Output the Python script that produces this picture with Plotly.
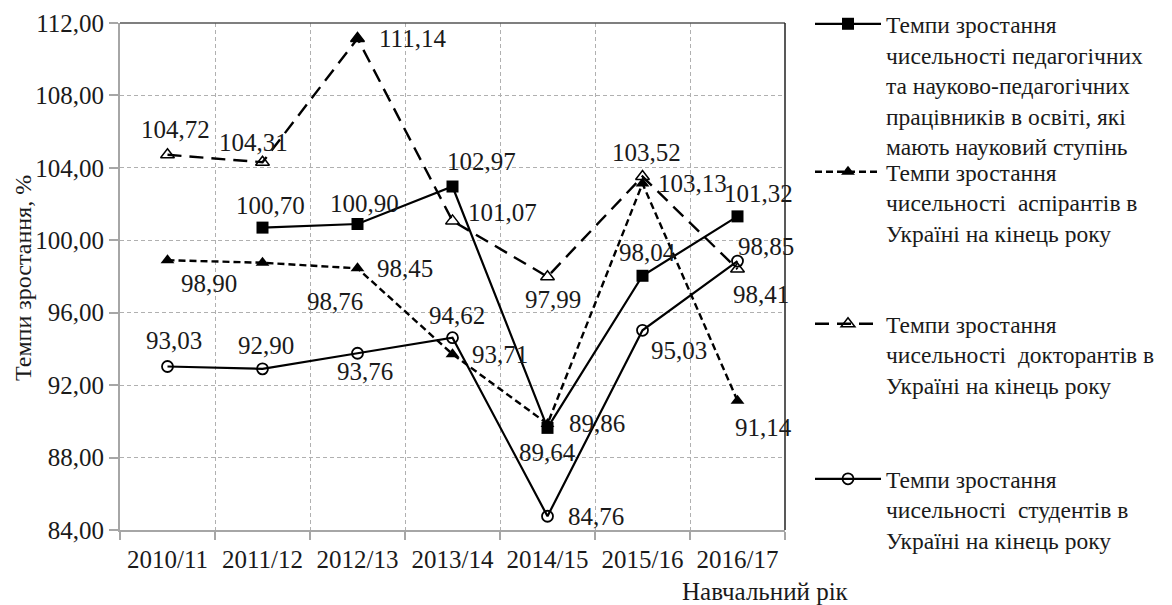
import plotly.graph_objects as go

years = ["2010/11", "2011/12", "2012/13", "2013/14", "2014/15", "2015/16", "2016/17"]

pedagog = [None, 100.70, 100.90, 102.97, 89.64, 98.04, 101.32]
aspirant = [98.90, 98.76, 98.45, 93.71, 89.86, 103.13, 91.14]
doctorant = [104.72, 104.31, 111.14, 101.07, 97.99, 103.52, 98.41]
students = [93.03, 92.90, 93.76, 94.62, 84.76, 95.03, 98.85]

names = [
    "Темпи зростання<br>чисельності педагогічних<br>та науково-педагогічних<br>працівників в освіті, які<br>мають науковий ступінь",
    "Темпи зростання<br>чисельності  аспірантів в<br>Україні на кінець року",
    "Темпи зростання<br>чисельності  докторантів в<br>Україні на кінець року",
    "Темпи зростання<br>чисельності  студентів в<br>Україні на кінець року",
]

y_ticks = [84, 88, 92, 96, 100, 104, 108, 112]

# label offsets in pixels (dx right, dy down) – styling only
off_ped = [None, (8, -22), (7, -20), (29, -25), (0, 25), (5, -23), (21, -23)]
off_asp = [(41, 23), (72, 39), (47, 0), (47, 0), (49, 0), (50, 0), (26, 27)]
off_doc = [(8, -25), (-9, -20), (55, 0), (50, -8), (5, 23), (4, -24), (23, 25)]
off_stu = [(6, -26), (3, -23), (7, 18), (4, -22), (48, 0), (36, 20), (28, -15)]

doc_symbols = ["triangle-up-open", "triangle-up-open", "triangle-up", "triangle-up-open",
               "triangle-up-open", "triangle-up-open", "triangle-up-open"]

FONT = "Liberation Serif"
TXT = "#1a1a1a"
FS = 25
OFF = 8  # page body margin
# plot area in page pixels
PL, PR, PT, PB = 120, 785, 23, 530
W, H = 1172 - OFF, 605 - OFF
L, T = PL - OFF, PT - OFF
R, B = W - (PR - OFF), H - (PB - OFF)
PW, PH = PR - PL, PB - PT


def px2x(px):
    return (px - PL) / PW


def py2y(py):
    return (PB - py) / PH


fig = go.Figure()

fig.add_trace(go.Scatter(
    x=years, y=pedagog, name=names[0], mode="lines+markers",
    line=dict(color="black", width=2.2),
    marker=dict(symbol="square", size=12, color="black"),
    legend="legend", connectgaps=False,
))
fig.add_trace(go.Scatter(
    x=years, y=aspirant, name=names[1], mode="lines+markers",
    line=dict(color="black", width=2.4, dash="7px,4px"),
    marker=dict(symbol="triangle-up", size=12, color="black"),
    legend="legend2",
))
fig.add_trace(go.Scatter(
    x=years, y=doctorant, name=names[2], mode="lines+markers",
    line=dict(color="black", width=2.4, dash="14px,8px"),
    marker=dict(symbol=doc_symbols, size=12, color="black", line=dict(color="black", width=1.5)),
    legend="legend3",
))
fig.add_trace(go.Scatter(
    x=years, y=students, name=names[3], mode="lines+markers",
    line=dict(color="black", width=2.2),
    marker=dict(symbol="circle-open", size=11, color="black", line=dict(color="black", width=1.8)),
    legend="legend4",
))


def fmt(v):
    return f"{v:.2f}".replace(".", ",")


annotations = []
for series, offs in [(pedagog, off_ped), (aspirant, off_asp), (doctorant, off_doc), (students, off_stu)]:
    for yr, v, o in zip(years, series, offs):
        if v is None:
            continue
        annotations.append(dict(
            x=yr, y=v, xref="x", yref="y", text=fmt(v), showarrow=False,
            xanchor="center", yanchor="middle",
            xshift=o[0], yshift=-o[1],
            font=dict(family=FONT, size=FS, color=TXT),
        ))

annotations.append(dict(
    x=px2x(23), y=py2y(278), xref="paper", yref="paper", text="Темпи зростання, %",
    xanchor="center", yanchor="middle", borderpad=0,
    textangle=-90, showarrow=False, font=dict(family=FONT, size=24, color=TXT),
))
annotations.append(dict(
    x=px2x(765), y=py2y(591), xref="paper", yref="paper", text="Навчальний рік",
    xanchor="center", yanchor="middle",
    showarrow=False, font=dict(family=FONT, size=FS, color=TXT),
))

leg_common = dict(
    xanchor="left", yanchor="top", bgcolor="rgba(0,0,0,0)",
    font=dict(family=FONT, size=23.5, color=TXT),
    itemwidth=66, valign="top", tracegroupgap=0,
)
legend_tops = [2, 150, 302, 457]
LEGX = 810

fig.update_layout(
    width=W, height=H,
    margin=dict(l=L, r=R, t=T, b=B, autoexpand=False),
    paper_bgcolor="white", plot_bgcolor="white",
    separators=", ",
    showlegend=True,
    legend=dict(x=px2x(LEGX), y=py2y(legend_tops[0]), **leg_common),
    legend2=dict(x=px2x(LEGX), y=py2y(legend_tops[1]), **leg_common),
    legend3=dict(x=px2x(LEGX), y=py2y(legend_tops[2]), **leg_common),
    legend4=dict(x=px2x(LEGX), y=py2y(legend_tops[3]), **leg_common),
    annotations=annotations,
    xaxis=dict(
        type="category", tickson="boundaries", automargin=False,
        showgrid=True, gridcolor="#b0b0b0", griddash="4px,3px", gridwidth=1,
        showline=True, linecolor="#a6a6a6", linewidth=2,
        ticks="outside", ticklen=8, tickcolor="#a6a6a6", tickwidth=1.5,
        ticklabelstandoff=6,
        tickfont=dict(family=FONT, size=FS, color=TXT),
        range=[-0.5, 6.5], fixedrange=True,
    ),
    yaxis=dict(
        range=[84, 112], tickvals=y_ticks, tickformat=".2f", automargin=False,
        showgrid=True, gridcolor="#b0b0b0", griddash="4px,3px", gridwidth=1,
        showline=True, linecolor="#a6a6a6", linewidth=2,
        ticks="outside", ticklen=9, tickcolor="#a6a6a6", tickwidth=1.5,
        tickfont=dict(family=FONT, size=FS, color=TXT),
        zeroline=False, fixedrange=True,
    ),
    shapes=[
        dict(type="line", xref="paper", yref="paper", x0=0, x1=1, y0=1, y1=1,
             line=dict(color="#555555", width=1.5)),
        dict(type="line", xref="paper", yref="paper", x0=1, x1=1, y0=0, y1=1,
             line=dict(color="#222222", width=1.5)),
    ],
)

fig.write_html("out.html")
